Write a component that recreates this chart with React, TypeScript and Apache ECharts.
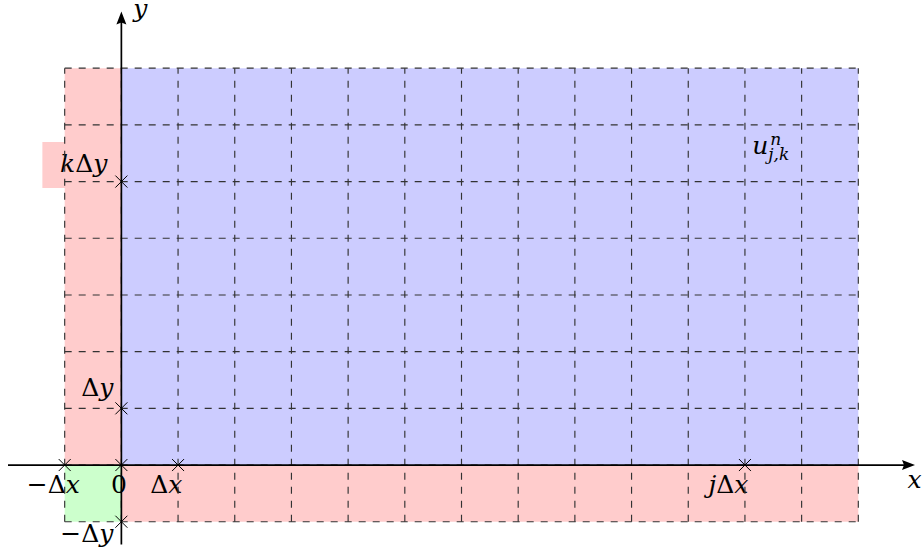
import React, { useEffect, useRef } from "react";
import * as echarts from "echarts";

// ---------------- data ----------------
const regionNames = ["ghostLeft", "ghostBottom", "interior", "ghostCorner"];
const regionX0 = [-1, 0, 0, -1];
const regionX1 = [0, 13, 13, 0];
const regionY0 = [0, -1, 0, -1];
const regionY1 = [7, 0, 7, 0];

const gridColumns = [-1, 0, 1, 2, 3, 4, 5, 6, 7, 8, 9, 10, 11, 12, 13];
const gridRows = [-1, 0, 1, 2, 3, 4, 5, 6, 7];
const gridXExtent = [-1, 13];
const gridYExtent = [-1, 7];

const axisXExtent = [-2, 14];
const axisYExtent = [-1.4, 8];

const markX = [-1, 0, 1, 11, 0, 0, 0];
const markY = [0, 0, 0, 0, -1, 1, 5];

const labelTexts = [
  "{i|y}",
  "{i|x}",
  "{i|k}{d|Δ}{i|y}",
  "{d|Δ}{i|y}",
  "{r|−}{d|Δ}{i|y}",
  "{r|−}{d|Δ}{i|x}",
  "{r|0}",
  "{d|Δ}{i|x}",
  "{i|j}{d|Δ}{i|x}",
];
const labelX = [0.335, 13.99, -0.247, -0.141, -0.141, -1.199, -0.044, 0.794, 10.71];
const labelY = [8.06, -0.247, 5.327, 1.36, -1.216, -0.342, -0.342, -0.342, -0.342];
const labelAlign = ["center", "center", "right", "right", "right", "center", "center", "center", "center"];
const labelBoxed = [false, false, true, false, false, false, false, false, false];

const cellLabelX = 11.5;
const cellLabelY = 5.5;
const cellLabelBase = "u";
const cellLabelSup = "n";
const cellLabelSub = "j,k";

// ---------------- styles ----------------
const regionColors: Record<string, string> = {
  ghostLeft: "#ffcccc",
  ghostBottom: "#ffcccc",
  interior: "#ccccff",
  ghostCorner: "#ccffcc",
};
const BOX_FILL = "#ffcccc";
const GRID_COLOR = "#333333";
const SERIF = "DejaVu Serif";
const FS = 25;
const FS_SCRIPT = 17;
const RICH = {
  i: { fontFamily: SERIF, fontStyle: "italic", fontSize: FS, fill: "#000" },
  r: { fontFamily: SERIF, fontSize: FS, fill: "#000" },
  d: { fontFamily: SERIF, fontSize: FS, fill: "#000" },
};

export default function App() {
  const ref = useRef<HTMLDivElement>(null);

  useEffect(() => {
    if (!ref.current) return;
    const chart = echarts.init(ref.current, undefined, { renderer: "svg" });

    const regionData = regionNames.map((_, i) => [regionX0[i], regionY0[i], regionX1[i], regionY1[i], i]);
    const vLineData = gridColumns.map((x) => [x, gridYExtent[0], x, gridYExtent[1]]);
    const hLineData = gridRows.map((y) => [gridXExtent[0], y, gridXExtent[1], y]);
    const axisData = [
      [axisXExtent[0], 0, axisXExtent[1], 0],
      [0, axisYExtent[0], 0, axisYExtent[1]],
    ];
    const markData = markX.map((x, i) => [x, markY[i]]);
    const labelData = labelTexts.map((_, i) => [labelX[i], labelY[i], i]);

    const lineRender = (width: number, color: string) => (params: any, api: any) => {
      const a = api.coord([api.value(0), api.value(1)]);
      const b = api.coord([api.value(2), api.value(3)]);
      return {
        type: "line",
        shape: { x1: a[0], y1: a[1], x2: b[0], y2: b[1] },
        style: { stroke: color, lineWidth: width, lineDash: [7, 7], fill: null },
      };
    };

    const option: any = {
      animation: false,
      grid: { left: 8, right: 7, top: 11.5, bottom: 9.6 },
      xAxis: { type: "value", min: axisXExtent[0], max: axisXExtent[1], show: false },
      yAxis: { type: "value", min: axisYExtent[0], max: axisYExtent[1], show: false },
      series: [
        {
          type: "custom",
          z: 1,
          data: regionData,
          renderItem: (params: any, api: any) => {
            const tl = api.coord([api.value(0), api.value(3)]);
            const br = api.coord([api.value(2), api.value(1)]);
            const name = regionNames[api.value(4)];
            return {
              type: "rect",
              shape: { x: tl[0], y: tl[1], width: br[0] - tl[0], height: br[1] - tl[1] },
              style: { fill: regionColors[name] },
            };
          },
        },
        {
          type: "custom",
          z: 2,
          data: labelData,
          renderItem: (params: any, api: any) => {
            const i = api.value(2);
            const p = api.coord([api.value(0), api.value(1)]);
            const children: any[] = [];
            if (labelBoxed[i]) {
              children.push({
                type: "rect",
                shape: { x: p[0] - 65, y: p[1] - 21, width: 76, height: 46 },
                style: { fill: BOX_FILL },
              });
            }
            children.push({
              type: "text",
              x: p[0],
              y: p[1],
              style: {
                text: labelTexts[i],
                rich: RICH,
                align: labelAlign[i],
                verticalAlign: "middle",
                fill: "#000",
              },
            });
            return { type: "group", children };
          },
        },
        {
          type: "custom",
          z: 2,
          data: [[cellLabelX, cellLabelY]],
          renderItem: (params: any, api: any) => {
            const p = api.coord([api.value(0), api.value(1)]);
            return {
              type: "group",
              children: [
                {
                  type: "text",
                  x: p[0] - 5,
                  y: p[1] - 7.8,
                  style: { text: cellLabelBase, fontFamily: SERIF, fontStyle: "italic", fontSize: FS, align: "right", verticalAlign: "middle", fill: "#000" },
                },
                {
                  type: "text",
                  x: p[0] - 3,
                  y: p[1] - 14,
                  style: { text: cellLabelSup, fontFamily: SERIF, fontStyle: "italic", fontSize: FS_SCRIPT, align: "left", verticalAlign: "middle", fill: "#000" },
                },
                {
                  type: "text",
                  x: p[0] - 5,
                  y: p[1] + 0.5,
                  style: { text: cellLabelSub, fontFamily: SERIF, fontStyle: "italic", fontSize: FS_SCRIPT, align: "left", verticalAlign: "middle", fill: "#000" },
                },
              ],
            };
          },
        },
        { type: "custom", z: 3, data: vLineData, renderItem: lineRender(1.15, GRID_COLOR) },
        { type: "custom", z: 3, data: hLineData, renderItem: lineRender(1.15, GRID_COLOR) },
        {
          type: "custom",
          z: 4,
          data: axisData,
          renderItem: (params: any, api: any) => {
            const a = api.coord([api.value(0), api.value(1)]);
            const b = api.coord([api.value(2), api.value(3)]);
            const dx = b[0] - a[0];
            const dy = b[1] - a[1];
            const len = Math.sqrt(dx * dx + dy * dy);
            const ux = dx / len;
            const uy = dy / len;
            const head = 13;
            const half = 5;
            const bx = b[0] - ux * head;
            const by = b[1] - uy * head;
            const nx = -uy;
            const ny = ux;
            return {
              type: "group",
              children: [
                {
                  type: "line",
                  shape: { x1: a[0], y1: a[1], x2: bx + ux * 3, y2: by + uy * 3 },
                  style: { stroke: "#000", lineWidth: 1.7 },
                },
                {
                  type: "polygon",
                  shape: {
                    points: [
                      [b[0], b[1]],
                      [bx + nx * half, by + ny * half],
                      [bx + ux * 2, by + uy * 2],
                      [bx - nx * half, by - ny * half],
                    ],
                  },
                  style: { fill: "#000" },
                },
              ],
            };
          },
        },
        {
          type: "custom",
          z: 5,
          data: markData,
          renderItem: (params: any, api: any) => {
            const p = api.coord([api.value(0), api.value(1)]);
            const s = 6;
            return {
              type: "group",
              children: [
                { type: "line", shape: { x1: p[0] - s, y1: p[1] - s, x2: p[0] + s, y2: p[1] + s }, style: { stroke: "#000", lineWidth: 1 } },
                { type: "line", shape: { x1: p[0] - s, y1: p[1] + s, x2: p[0] + s, y2: p[1] - s }, style: { stroke: "#000", lineWidth: 1 } },
              ],
            };
          },
        },
      ],
    };

    chart.setOption(option);
    return () => chart.dispose();
  }, []);

  return (
    <div
      ref={ref}
      style={{ position: "absolute", left: 0, top: 0, width: 922, height: 554, background: "#fff" }}
    />
  );
}
